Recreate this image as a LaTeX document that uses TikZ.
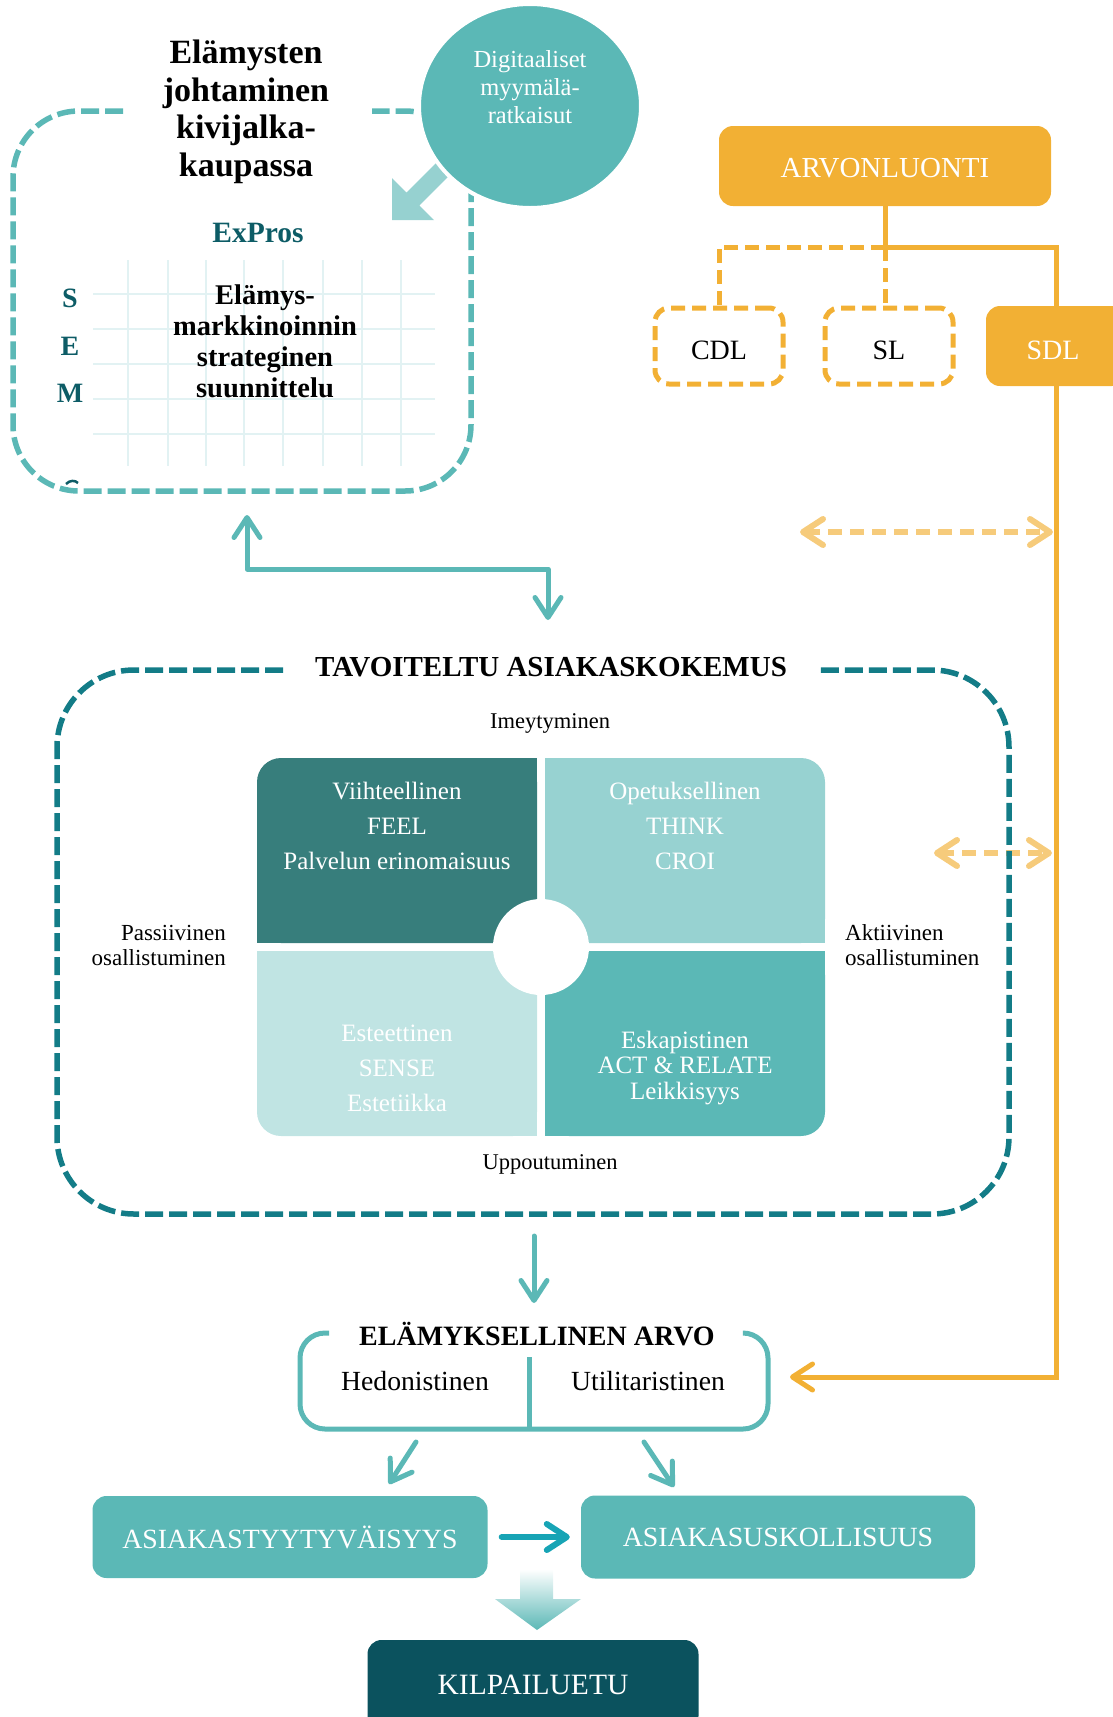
\documentclass[tikz,border=0pt]{standalone}
\usepackage{fontspec}
\setmainfont{Liberation Serif}
\usetikzlibrary{arrows.meta,shapes.geometric}

\definecolor{teal1}{HTML}{5BB8B6}
\definecolor{tealpale}{HTML}{96D1D0}
\definecolor{tealdash}{HTML}{137C87}
\definecolor{tealdark}{HTML}{0D5C66}
\definecolor{orng}{HTML}{F2B034}
\definecolor{orngpale}{HTML}{F6CB7B}
\definecolor{qdark}{HTML}{377E7C}
\definecolor{qmid}{HTML}{97D2D1}
\definecolor{qlight}{HTML}{C0E4E3}
\definecolor{kilpa}{HTML}{0B525E}
\definecolor{cyanarr}{HTML}{17A4B5}
\definecolor{gridc}{HTML}{E2F2F3}

\newcommand\fsz[2]{\fontsize{#1}{#2}\selectfont}
\newcommand\lowered[2]{\raisebox{-#1}[\height][\depth]{#2}}

\tikzset{
  barbtip/.tip={Straight Barb[length=20pt,width=26pt,round]},
  txt/.style={inner sep=0pt, align=center},
  tealline/.style={draw=teal1, line width=5pt, line cap=round, line join=round},
  orngline/.style={draw=orng, line width=5pt},
  orngdash/.style={draw=orng, line width=5pt, dash pattern=on 14pt off 7pt},
  paledash/.style={draw=orngpale, line width=6pt, dash pattern=on 14pt off 8pt},
  dashbox/.style={line width=5.5pt, dash pattern=on 18pt off 6pt, rounded corners=#1},
  solidbox/.style={rounded corners=14pt, inner sep=0pt, text=white},
  dashedbox/.style={draw=orng, line width=5pt, dash pattern=on 14pt off 7pt, rounded corners=14pt,
    minimum width=128pt, minimum height=76pt, inner sep=0pt, font=\fsz{28}{30}},
  grid line/.style={draw=gridc, line width=1.5pt},
}

\begin{document}
\begin{tikzpicture}[x=1pt,y=-1pt]
\useasboundingbox (0,0) rectangle (1113,1717);
\clip (0,0) rectangle (1113,1717);

% ---------- experience management box ----------
\foreach \gx in {128,168,206,244,283,323,362,401}
  \draw[grid line] (\gx,260) -- (\gx,466);
\foreach \gy in {294,329,364,399,434}
  \draw[grid line] (93,\gy) -- (435,\gy);

\draw[teal1, dashbox=66pt] (123,111) -- (13,111) -- (13,491) -- (471,491) -- (471,111) -- (372,111);

\node[txt, font=\fsz{34}{37.6}\bfseries] (elj) at (246,112)
  {Elämysten\\johtaminen\\kivijalka-\\kaupassa};
\node[txt, font=\fsz{29.5}{30}\bfseries, text=tealdark] (expros) at (258,233) {ExPros};
\node[txt, font=\fsz{28}{30}\bfseries, text=tealdark] (sems) at (70,298) {S};
\node[txt, font=\fsz{28}{30}\bfseries, text=tealdark] (seme) at (70,346) {E};
\node[txt, font=\fsz{28}{30}\bfseries, text=tealdark] (semm) at (70,393) {M};
\draw[tealdark, line width=2.5pt] (66,484) .. controls (70,480) and (75,480) .. (78,483);
\node[txt, font=\fsz{28.5}{31}\bfseries] (esm) at (265,341)
  {Elämys-\\markkinoinnin\\strateginen\\suunnittelu};

% block arrow from the digital solutions bubble
\fill[tealpale] (392,220) -- (392,178) -- (406.6,192.6) -- (456.6,142.6)
  -- (469.4,155.4) -- (419.4,205.4) -- (434,220) -- cycle;

\node[ellipse, fill=teal1, draw=white, line width=4pt, minimum width=222pt,
  minimum height=204pt, inner sep=0pt] (dig) at (530,106) {};
\node[txt, font=\fsz{24.5}{28}, text=white] (digt) at (530,87)
  {Digitaaliset\\myymälä-\\ratkaisut};

% ---------- value creation ----------
\node[solidbox, fill=orng, minimum width=332pt, minimum height=80pt,
  font=\fsz{29}{30}] (arv) at (885,166) {\lowered{2pt}{ARVONLUONTI}};
\node[dashedbox] (cdl) at (719,346) {\lowered{4pt}{CDL}};
\node[dashedbox] (sl) at (889,346) {\lowered{4pt}{SL}};
\node[solidbox, fill=orng, minimum width=140pt, minimum height=80pt,
  font=\fsz{28}{30}] (sdl) at (1056,346) {\hspace*{-6pt}\lowered{4pt}{SDL}};

\draw[orngline] (arv.south) -- ++(0,41) coordinate (j) -| (sdl.north);
\draw[orngdash] (j) -| (cdl.north);
\draw[orngdash] (j) -- (j |- sl.north);

% ---------- link between the two frames ----------
\coordinate (upTip) at (247,515);
\coordinate (dnTip) at (548,620);
\coordinate (midRun) at (400,569);
\draw[tealline, barbtip-barbtip] (upTip) -- (upTip |- midRun) -| (dnTip);

% pale two-headed arrows
\coordinate (pa1) at (800,532);
\coordinate (pa2) at (1053,532);
\draw[paledash, barbtip-barbtip] (pa1) -- (pa2);
\coordinate (pb1) at (934,853);
\coordinate (pb2) at (1052,853);
\draw[paledash, barbtip-barbtip] (pb1) -- (pb2);

% ---------- target customer experience ----------
\draw[tealdash, dashbox=77pt] (283,670) -- (57,670) -- (57,1214) -- (1009,1214) -- (1009,670) -- (819,670);
\node[txt, font=\fsz{29}{30}\bfseries] (tav) at (551,667) {TAVOITELTU ASIAKASKOKEMUS};

\node[txt, font=\fsz{22.5}{24}] (imey) at (550,723) {Imeytyminen};
\node[txt, font=\fsz{22.5}{24}] (uppo) at (550,1164) {Uppoutuminen};
\node[txt, font=\fsz{23}{25}, align=right, anchor=east] (pass) at (226,945)
  {Passiivinen\\osallistuminen};
\node[txt, font=\fsz{23}{25}, align=left, anchor=west] (akti) at (845,945)
  {Aktiivinen\\osallistuminen};

% quadrants: only the outer corners are rounded
\fill[qdark, rounded corners=24pt] (257,758) rectangle (537,943);
\fill[qdark] (281,758) rectangle (537,943);
\fill[qdark] (257,782) rectangle (537,943);
\fill[qmid, rounded corners=24pt] (545,758) rectangle (825,943);
\fill[qmid] (545,758) rectangle (801,943);
\fill[qmid] (545,782) rectangle (825,943);
\fill[qlight, rounded corners=24pt] (257,951) rectangle (537,1136);
\fill[qlight] (281,951) rectangle (537,1136);
\fill[qlight] (257,951) rectangle (537,1112);
\fill[teal1, rounded corners=24pt] (545,951) rectangle (825,1136);
\fill[teal1] (545,951) rectangle (801,1136);
\fill[teal1] (545,951) rectangle (825,1112);
\fill[white] (541,947) circle (48pt);

\node[txt, font=\fsz{25}{35}, text=white] (qa) at (397,826)
  {Viihteellinen\\FEEL\\Palvelun erinomaisuus};
\node[txt, font=\fsz{25}{35}, text=white] (qb) at (685,826)
  {Opetuksellinen\\THINK\\CROI};
\node[txt, font=\fsz{25}{35}, text=white] (qc) at (397,1068)
  {Esteettinen\\SENSE\\Estetiikka};
\node[txt, font=\fsz{25}{25.5}, text=white] (qd) at (685,1068)
  {Eskapistinen\\ACT \& RELATE\\Leikkisyys};

% ---------- experiential value ----------
\coordinate (exOut) at (534,1236);
\coordinate (exIn) at (534,1303);
\draw[tealline, -barbtip] (exOut) -- (exIn);

\draw[teal1, line width=5pt, rounded corners=25pt]
  (329,1333) -- (300,1333) -- (300,1429) -- (768,1429) -- (768,1333) -- (745,1333);
\node[txt, font=\fsz{28}{30}\bfseries] (ela) at (537,1334) {ELÄMYKSELLINEN ARVO};
\coordinate (divTop) at (529,1357);
\draw[teal1, line width=5pt] (divTop) -- (divTop |- 0,1429);
\node[txt, font=\fsz{27.7}{30}] (hed) at (415,1381) {Hedonistinen};
\node[txt, font=\fsz{27.7}{30}] (uti) at (648,1381) {Utilitaristinen};

\coordinate (elaR) at (790,1377);
\draw[orngline, -barbtip] (sdl.south) |- (elaR);

% ---------- outcomes ----------
\node[solidbox, fill=teal1, minimum width=395pt, minimum height=82pt,
  font=\fsz{27.8}{28}] (asty) at (290,1537) {ASIAKASTYYTYVÄISYYS};
\node[solidbox, fill=teal1, minimum width=394pt, minimum height=83pt,
  font=\fsz{27.8}{28}] (asus) at (778,1537) {ASIAKASUSKOLLISUUS};
\node[solidbox, fill=kilpa, minimum width=331pt, minimum height=90pt,
  font=\fsz{29.5}{30}] (kil) at (533,1685) {KILPAILUETU};

\coordinate (hedOut) at (416,1442);
\coordinate (hedIn) at (389,1484);
\coordinate (utiOut) at (644,1442);
\coordinate (utiIn) at (674,1487);
\draw[tealline, -barbtip] (hedOut) -- (hedIn);
\draw[tealline, -barbtip] (utiOut) -- (utiIn);

\draw[draw=cyanarr, line width=6pt, line cap=round, -barbtip]
  ([xshift=14pt]asty.east) -- ([xshift=-11pt]asus.west);

\shade[top color=white, middle color=tealpale!85, bottom color=teal1]
  (520,1569) -- (553,1569) -- (553,1599) -- (581,1599) -- (537,1630)
  -- (495,1599) -- (520,1599) -- cycle;
\end{tikzpicture}
\end{document}
